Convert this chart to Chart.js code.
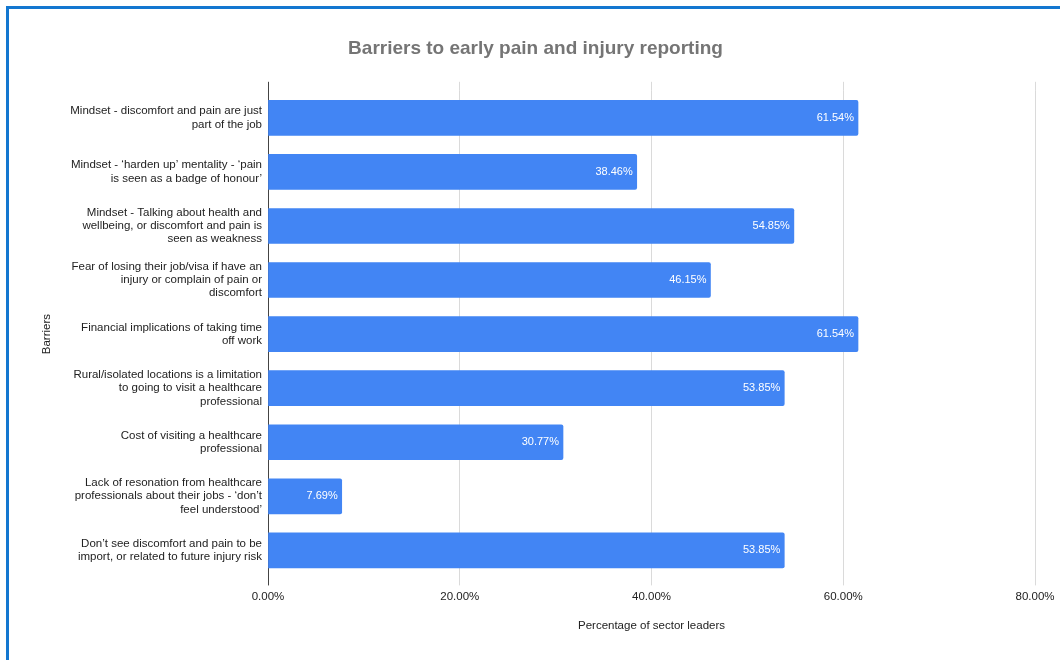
<!DOCTYPE html>
<html>
<head>
<meta charset="utf-8">
<script src="https://cdn.jsdelivr.net/npm/chart.js@4"></script>
<style>
  html, body { margin: 0; padding: 0; background: #fff; }
  #frame {
    position: absolute; left: 6px; top: 6px;
    width: 1054px; height: 654px;
    border-left: 3px solid #1377d0; border-top: 3px solid #1377d0;
  }
  #chart { display: block; }
</style>
</head>
<body>
<div id="frame"><canvas id="chart" width="1051" height="651"></canvas></div>
<script>
const barriers = [
    ['Mindset - discomfort and pain are just', 'part of the job'],
    ['Mindset - \u2018harden up\u2019 mentality - \u2018pain', 'is seen as a badge of honour\u2019'],
    ['Mindset - Talking about health and', 'wellbeing, or discomfort and pain is', 'seen as weakness'],
    ['Fear of losing their job/visa if have an', 'injury or complain of pain or', 'discomfort'],
    ['Financial implications of taking time', 'off work'],
    ['Rural/isolated locations is a limitation', 'to going to visit a healthcare', 'professional'],
    ['Cost of visiting a healthcare', 'professional'],
    ['Lack of resonation from healthcare', 'professionals about their jobs - \u2018don\u2019t', 'feel understood\u2019'],
    ['Don\u2019t see discomfort and pain to be', 'import, or related to future injury risk']
];

const percentages = [61.54, 38.46, 54.85, 46.15, 61.54, 53.85, 30.77, 7.69, 53.85];

const xTicks = [0, 20, 40, 60, 80];

const fontFamily = '"Liberation Sans", Arial, Helvetica, sans-serif';

// same rounding Chart.js uses for 1px grid lines
const crisp = p => Math.round(p - 0.5) + 0.5;

// gridlines and the left axis run a little past the plot area, top and bottom
const axisLines = {
    id: 'axisLines',
    beforeDatasetsDraw(chart) {
        const { ctx, chartArea, scales } = chart;
        ctx.save();
        ctx.lineWidth = 1;
        ctx.strokeStyle = '#dadada';
        xTicks.slice(1).forEach(v => {
            const x = crisp(scales.x.getPixelForValue(v));
            ctx.beginPath();
            ctx.moveTo(x, chartArea.top - 9);
            ctx.lineTo(x, chartArea.top);
            ctx.stroke();
        });
        const x0 = crisp(scales.x.getPixelForValue(0));
        ctx.strokeStyle = '#444';
        ctx.beginPath();
        ctx.moveTo(x0, chartArea.top - 9);
        ctx.lineTo(x0, chartArea.bottom + 8);
        ctx.stroke();
        ctx.restore();
    }
};

// white value text at the end of each bar
const barValues = {
    id: 'barValues',
    afterDatasetsDraw(chart) {
        const { ctx } = chart;
        const meta = chart.getDatasetMeta(0);
        ctx.save();
        ctx.font = '11px ' + fontFamily;
        ctx.fillStyle = '#ffffff';
        ctx.textAlign = 'right';
        ctx.textBaseline = 'middle';
        meta.data.forEach((bar, i) => {
            ctx.fillText(percentages[i].toFixed(2) + '%', bar.x - 4, bar.y);
        });
        ctx.restore();
    }
};

const ctx = document.getElementById('chart').getContext('2d');

const myChart = new Chart(ctx, {
    type: 'bar',
    data: {
        labels: barriers,
        datasets: [{
            data: percentages,
            backgroundColor: '#4285f4',
            barThickness: 35,
            borderRadius: 2,
            borderSkipped: 'start'
        }]
    },
    options: {
        indexAxis: 'y',
        responsive: false,
        animation: false,
        layout: {
            padding: { left: 27, right: 25, top: 0, bottom: 27 }
        },
        plugins: {
            legend: { display: false },
            tooltip: { enabled: false },
            title: {
                display: true,
                text: 'Barriers to early pain and injury reporting',
                color: '#757575',
                font: { family: fontFamily, size: 19, weight: 'bold' },
                padding: { top: 28, bottom: 31 }
            }
        },
        scales: {
            x: {
                min: 0,
                max: 80,
                afterBuildTicks: scale => {
                    scale.ticks = xTicks.map(v => ({ value: v }));
                },
                ticks: {
                    callback: v => Number(v).toFixed(2) + '%',
                    padding: 5,
                    color: '#222',
                    font: { family: fontFamily, size: 11.5 }
                },
                grid: { color: '#dadada', tickLength: 8, drawTicks: true },
                border: { display: false },
                title: {
                    display: true,
                    text: 'Percentage of sector leaders',
                    color: '#222',
                    font: { family: fontFamily, size: 11.5 },
                    padding: { top: 10, bottom: 0 }
                }
            },
            y: {
                afterFit: scale => { scale.width = 232; },
                ticks: {
                    padding: 6,
                    color: '#222',
                    font: { family: fontFamily, size: 11.5, lineHeight: 1.15 }
                },
                grid: { display: false, drawTicks: false },
                border: { display: false },
                title: {
                    display: true,
                    text: 'Barriers',
                    color: '#222',
                    font: { family: fontFamily, size: 11.5 },
                    padding: { top: 4, bottom: 0 }
                }
            }
        }
    },
    plugins: [axisLines, barValues]
});
</script>
</body>
</html>
